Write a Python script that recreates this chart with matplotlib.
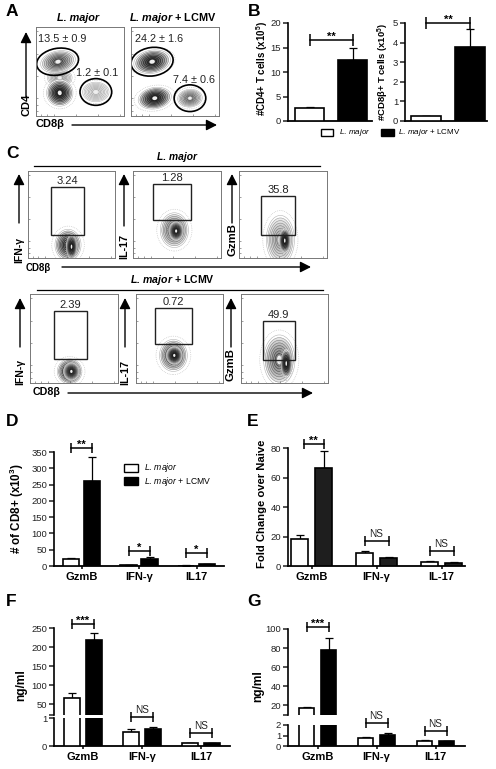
import numpy as np
import matplotlib
matplotlib.use('Agg')
import matplotlib.pyplot as plt
from matplotlib.patches import Ellipse, Rectangle

plt.rcParams['font.family'] = ['Liberation Sans', 'DejaVu Sans']
plt.rcParams['mathtext.fontset'] = 'custom'
plt.rcParams['mathtext.rm'] = 'Liberation Sans'
plt.rcParams['mathtext.bf'] = 'Liberation Sans:bold'
plt.rcParams['mathtext.it'] = 'Liberation Sans:italic'
plt.rcParams['mathtext.bfit'] = 'Liberation Sans:italic:bold'

W, H = 496, 769

# panel B
b_cd4 = [2.6, 12.5]
b_cd4_err = [0.2, 2.5]
b_cd8 = [0.23, 3.78]
b_cd8_err = [0.02, 0.89]

# panel D
d_groups = ['GzmB', 'IFN-γ', 'IL17']
d_lm = [22, 2, 1.5]
d_lm_err = [3, 0.5, 0.4]
d_lcmv = [260, 20, 6]
d_lcmv_err = [76, 7, 1]
d_brackets = [362, 46, 40]
d_stars = ['**', '*', '*']

# panel E
e_groups = ['GzmB', 'IFN-γ', 'IL-17']
e_lm = [18.5, 9, 2.7]
e_lm_err = [2.5, 1, 0.4]
e_lcmv = [66.5, 5.5, 2.2]
e_lcmv_err = [11.5, 0.8, 0.4]
e_brackets = [83, 17, 10]
e_stars = ['**', 'NS', 'NS']

# panel F
f_groups = ['GzmB', 'IFN-γ', 'IL17']
f_lm = [66, 0.5, 0.12]
f_lm_err = [14, 0.12, 0.0]
f_lcmv = [218, 0.6, 0.11]
f_lcmv_err = [18, 0.08, 0.0]

# panel G
g_groups = ['GzmB', 'IFN-γ', 'IL17']
g_lm = [17, 0.75, 0.5]
g_lm_err = [1, 0.1, 0.05]
g_lcmv = [78, 1.05, 0.47]
g_lcmv_err = [13, 0.15, 0.05]

# flow plots: populations are (x, y, rx, ry, angle, darkness) in % of the plot
a1_blobs = [(27, 43, 14, 10, 0, 0.25), (68, 27, 15, 11, 0, 0.12),
            (25, 61, 20, 12, 12, 0.6), (27, 26, 15, 15, 10, 0.95)]
a1_gates = [(24.5, 61, 24, 15, 10), (68, 27, 18, 15, 0)]
a2_blobs = [(24, 61, 21, 13, 10, 0.9), (27, 20, 19, 12, 10, 0.95), (67, 20, 14, 10, 5, 0.45)]
a2_gates = [(24, 61, 24, 16, 8), (67, 20, 18, 15, 0)]

c_blobs = [[(46, 15, 15, 18, 0, 0.8), (50, 13, 6, 14, 0, 1.0)],
           [(47, 32, 16, 20, 0, 0.55), (49, 31, 8, 11, 0, 0.95)],
           [(47, 21, 16, 28, 0, 0.35), (52, 20, 6, 14, 0, 1.0)],
           [(45, 13, 14, 14, 0, 0.9), (47, 13, 9, 10, 0, 0.9)],
           [(43, 31, 16, 18, 0, 0.7), (44, 31, 9, 10, 0, 1.0)],
           [(44, 26, 18, 28, 0, 0.55), (52, 22, 6, 16, 0, 1.0)]]
c_gates = [(26, 64, 26, 82), (23, 66, 44, 85), (25, 64, 26, 71),
           (27, 65, 27, 81), (22, 64, 44, 84), (25, 62, 26, 70)]
c_values = ['3.24', '1.28', '35.8', '2.39', '0.72', '49.9']
c_frames = [(28, 171, 115, 258), (133, 171, 221, 258), (239, 171, 327, 258),
            (30, 294, 118, 383), (136, 294, 223, 383), (241, 294, 328, 383)]
flow_ticks = [6, 12, 20, 45, 70, 95]


def px_axes(x0, y0, x1, y1):
    return fig.add_axes([x0 / W, 1 - y1 / H, (x1 - x0) / W, (y1 - y0) / H])


def draw_blob(ax, cx, cy, rx, ry, ang, dark):
    n = 8
    ax.add_patch(Ellipse((cx, cy), 2.5 * rx, 2.4 * ry, angle=ang, fc='none', ec='#bbbbbb', lw=0.5, ls=':'))
    for k in range(n):
        f = 1 - 0.85 * k / n
        shade = 1 - dark * (k / (n - 1)) ** 0.75 * 0.9
        edge = max(shade - 0.3, 0.1)
        ax.add_patch(Ellipse((cx, cy), 2 * rx * f, 2 * ry * f, angle=ang,
                             fc=str(shade), ec=str(edge), lw=0.4))
    ax.add_patch(Ellipse((cx, cy), 0.3 * rx, 0.35 * ry, angle=ang, fc='#eeeeee', ec='none'))


def flow_axes(frame, blobs):
    ax = px_axes(*frame)
    ax.set_xlim(0, 100)
    ax.set_ylim(0, 100)
    ax.set_xticks(flow_ticks)
    ax.set_yticks(flow_ticks)
    ax.tick_params(direction='in', length=1.5, width=0.4, color='#555555',
                   labelleft=False, labelbottom=False)
    for s in ax.spines.values():
        s.set_linewidth(0.7)
        s.set_color('#777777')
    for b in blobs:
        draw_blob(ax, *b)
    return ax


def arrow(x0, y0, x1, y1):
    over.annotate('', xy=(x1, y1), xytext=(x0, y0),
                  arrowprops=dict(arrowstyle='-|>,head_length=0.75,head_width=0.38', color='k', lw=1,
                                  shrinkA=0, shrinkB=0, mutation_scale=8.6))


def style_axis(ax, bottom=True):
    ax.spines['top'].set_visible(False)
    ax.spines['right'].set_visible(False)
    ax.spines['left'].set_linewidth(1.2)
    ax.spines['bottom'].set_linewidth(1.3)
    ax.spines['bottom'].set_visible(bottom)
    ax.patch.set_alpha(0)
    ax.tick_params(axis='y', length=3.5, width=1.1, labelsize=6.8, pad=1.5, colors='#222222')
    ax.tick_params(axis='x', length=2, width=1.1, labelsize=8, pad=2)


def bars(ax, x, vals, errs, color, w):
    ax.bar(x, vals, w, color=color, edgecolor='k', linewidth=1.2, zorder=3)
    ax.errorbar(x, vals, yerr=[np.zeros(len(errs)), errs], fmt='none', ecolor='k',
                elinewidth=0.9, capsize=3.2, capthick=0.9, zorder=2)


def bracket(ax, x0, x1, y, label, cap=7):
    ax.plot([x0, x1], [y, y], color='k', lw=1.1, marker='|', ms=cap, mew=1.1, clip_on=False, zorder=5)
    if label == 'NS':
        ax.annotate(label, xy=((x0 + x1) / 2, y), xytext=(0, 1.5), textcoords='offset points',
                    ha='center', va='bottom', fontsize=7.2, color='#222222', annotation_clip=False)
    else:
        ax.annotate(label, xy=((x0 + x1) / 2, y), xytext=(0, -1.5), textcoords='offset points',
                    ha='center', va='bottom', fontsize=8, fontweight='bold', annotation_clip=False)


def group_axes(rect, centers, off, yl, yticks):
    ax = px_axes(*rect)
    s = centers[1] - centers[0]
    ax.set_xlim((rect[0] - centers[0]) / s, (rect[2] - centers[0]) / s)
    ax.set_ylim(*yl)
    ax.set_yticks(yticks)
    style_axis(ax)
    return ax, off / s


def set_groups(ax, labels):
    ax.set_xticks(range(len(labels)))
    ax.set_xticklabels(labels, fontweight='bold')


def legend_row(x, y, color, label, w, h, gap, fs):
    over.add_patch(Rectangle((x, y - h / 2), w, h, fc=color, ec='k', lw=1))
    over.text(x + w + gap, y, label, fontsize=fs, ha='left', va='center')


def ylab(ax, text, fs, xc, yc):
    # xc, yc: where the label goes in axes fraction terms
    ax.set_ylabel(text, fontsize=fs, fontweight='bold')
    ax.yaxis.set_label_coords(xc, yc)


fig = plt.figure(figsize=(W / 100, H / 100), dpi=100)
over = fig.add_axes([0, 0, 1, 1], zorder=10)
over.set_xlim(0, W)
over.set_ylim(H, 0)
over.axis('off')

for lab, x, y in [('A', 6, 12), ('B', 248, 12), ('C', 6, 154), ('D', 6, 421), ('E', 247, 421), ('F', 6, 602), ('G', 247, 602)]:
    over.text(x, y, lab, fontsize=12.5, fontweight='bold', ha='left', va='center')

LM_BOLD = r'$\mathbfit{L.\,major}$ + LCMV'
LM_PLAIN = r'$\mathit{L.\,major}$ + LCMV'

# A
ax = flow_axes((36, 27, 124, 116), a1_blobs)
for g in a1_gates:
    ax.add_patch(Ellipse(g[:2], 2 * g[2], 2 * g[3], angle=g[4], fc='none', ec='k', lw=1.2))
ax.text(30, 87, '13.5 ± 0.9', fontsize=7.8, ha='center', va='center', color='#222222')
ax.text(70, 48, '1.2 ± 0.1', fontsize=7.8, ha='center', va='center', color='#222222', clip_on=False)
ax = flow_axes((131, 27, 219, 116), a2_blobs)
for g in a2_gates:
    ax.add_patch(Ellipse(g[:2], 2 * g[2], 2 * g[3], angle=g[4], fc='none', ec='k', lw=1.2))
ax.text(32, 87, '24.2 ± 1.6', fontsize=7.8, ha='center', va='center', color='#222222')
ax.text(72, 40, '7.4 ± 0.6', fontsize=7.8, ha='center', va='center', color='#222222')
over.text(78, 18, 'L. major', fontsize=7.8, fontweight='bold', fontstyle='italic', ha='center', va='center')
over.text(173, 18, LM_BOLD, fontsize=7.8, fontweight='bold', ha='center', va='center')
arrow(26, 97, 26, 32)
over.text(27, 105, 'CD4', fontsize=8, fontweight='bold', rotation=90, ha='center', va='center')
over.text(36, 124, 'CD8β', fontsize=7.9, fontweight='bold', ha='left', va='center')
arrow(72, 125, 217, 125)

# B
ax = px_axes(288, 23, 372, 121)
s = 43
ax.set_xlim(-21.5 / s, 62.5 / s)
ax.set_ylim(0, 20)
ax.set_yticks([0, 5, 10, 15, 20])
style_axis(ax)
ax.set_xticks([])
bars(ax, [0, 1], b_cd4, b_cd4_err, ['white', 'k'], 29 / s)
bracket(ax, 0, 1, 16.5, '**', 9)
ylab(ax, r'#CD4+ T cells (x10$^{\mathbf{5}}$)', 7, -0.215, 0.54)

ax = px_axes(405, 23, 487, 121)
s = 44
ax.set_xlim(-21 / s, 61 / s)
ax.set_ylim(0, 5)
ax.set_yticks([0, 1, 2, 3, 4, 5])
style_axis(ax)
ax.set_xticks([])
bars(ax, [0, 1], b_cd8, b_cd8_err, ['white', 'k'], 30 / s)
bracket(ax, 0, 1, 5, '**', 8)
ylab(ax, r'#CD8β+ T cells (x10$^{\mathbf{5}}$)', 6.8, -0.165, 0.5)

legend_row(321, 132.5, 'white', r'$\mathit{L.\,major}$', 12, 7, 6, 5.8)
legend_row(381, 132.5, 'k', LM_PLAIN, 13, 7, 4, 5.8)

# C
over.text(177, 157, 'L. major', fontsize=7.4, fontweight='bold', fontstyle='italic', ha='center', va='center')
over.plot([34, 320], [166, 166], color='k', lw=0.9)
over.text(172, 280, LM_BOLD, fontsize=7.6, fontweight='bold', ha='center', va='center')
over.plot([37, 323], [290, 290], color='k', lw=0.9)
for frame, blobs, gate, val in zip(c_frames, c_blobs, c_gates, c_values):
    ax = flow_axes(frame, blobs)
    ax.add_patch(Rectangle((gate[0], gate[2]), gate[1] - gate[0], gate[3] - gate[2],
                           fc='none', ec='#222222', lw=1))
    ax.text((gate[0] + gate[1]) / 2, gate[3] + 1, val, fontsize=8, ha='center', va='bottom', color='#222222')

for x, txt, y, fs, bot in [(19, 'IFN-γ', 250, 7.5, 223), (124, 'IL-17', 246, 7.8, 226), (232, 'GzmB', 240, 8.2, 223)]:
    arrow(x, bot, x, 174)
    over.text(x, y, txt, fontsize=fs, fontweight='bold', rotation=90, ha='center', va='center')
for x, txt, y, fs in [(20, 'IFN-γ', 372, 7.5), (125, 'IL-17', 372, 7.8), (231, 'GzmB', 365, 8.2)]:
    arrow(x, 347, x, 298)
    over.text(x, y, txt, fontsize=fs, fontweight='bold', rotation=90, ha='center', va='center')
over.text(26, 268, 'CD8β', fontsize=7, fontweight='bold', ha='left', va='center')
arrow(62, 267, 311, 267)
over.text(33, 392, 'CD8β', fontsize=7.7, fontweight='bold', ha='left', va='center')
arrow(68, 393, 313, 393)

# D
ax, off = group_axes((54, 452, 224, 566), [81.5, 139, 196], 10.5, (0, 350), range(0, 351, 50))
x = np.arange(3)
bars(ax, x - off, d_lm, d_lm_err, 'white', 16 / 57)
bars(ax, x + off, d_lcmv, d_lcmv_err, 'k', 16 / 57)
for i in x:
    bracket(ax, i - off, i + off, d_brackets[i], d_stars[i])
set_groups(ax, d_groups)
ylab(ax, r'# of CD8+ (x10$^{\mathbf{3}}$)', 8.4, -0.165, 0.5)
legend_row(124, 468, 'white', r'$\mathit{L.\,major}$', 14, 8, 6, 6.2)
legend_row(124, 481, 'k', LM_PLAIN, 14, 8, 6, 6.2)

# E
ax, off = group_axes((288, 448, 465, 566), [311.5, 376.5, 440.5], 12, (0, 80), range(0, 81, 20))
x = np.arange(3)
bars(ax, x - off, e_lm, e_lm_err, 'white', 17 / 64.5)
bars(ax, x + off, e_lcmv, e_lcmv_err, '#1e1e1e', 17 / 64.5)
for i in x:
    left = i - off + (0.07 if i == 0 else 0)
    bracket(ax, left, i + off, e_brackets[i], e_stars[i])
set_groups(ax, e_groups)
ylab(ax, 'Fold Change over Naive', 8.1, -0.119, 0.525)


def broken(hi_rect, lo_rect, centers, off, w, hi_yl, hi_ticks, lo_yl, lo_ticks, groups, lm, lm_err, lcmv, lcmv_err, brk, lab_x):
    hi, _ = group_axes(hi_rect, centers, off, hi_yl, hi_ticks)
    lo, off = group_axes(lo_rect, centers, off, lo_yl, lo_ticks)
    hi.spines['bottom'].set_visible(False)
    hi.set_xticks([])
    hi.set_yticklabels([''] + [str(t) for t in hi_ticks[1:]])
    x = np.arange(3)
    w = w / (centers[1] - centers[0])
    bars(hi, [-off], lm[:1], lm_err[:1], 'white', w)
    bars(hi, [off], lcmv[:1], lcmv_err[:1], 'k', w)
    bars(lo, x - off, lm, lm_err, 'white', w)
    bars(lo, x + off, lcmv, lcmv_err, 'k', w)
    bracket(hi, -off, off, brk[0], '***')
    bracket(lo, 1 - off, 1 + off, brk[1], 'NS')
    bracket(lo, 2 - off, 2 + off, brk[2], 'NS')
    set_groups(lo, groups)
    ylab(hi, 'ng/ml', 8.6, lab_x, 0.34)


# F
broken((54, 628, 230, 714.5), (54, 718, 230, 746), [83, 142, 201], 11, 16, (22.4, 250), [22.4, 50, 100, 150, 200, 250],
       (0, 1), [0, 1], f_groups, f_lm, f_lm_err, f_lcmv, f_lcmv_err, (260, 1.03, 0.46), -0.153)

# G
broken((288, 629, 465, 715), (288, 725, 465, 746), [317.5, 376.5, 435.5], 11, 15, (9.5, 100), [9.5, 20, 40, 60, 80, 100],
       (0, 2), [0, 1, 2], g_groups, g_lm, g_lm_err, g_lcmv, g_lcmv_err, (102, 2.2, 1.43), -0.136)

fig.savefig('out.png', dpi=100)
